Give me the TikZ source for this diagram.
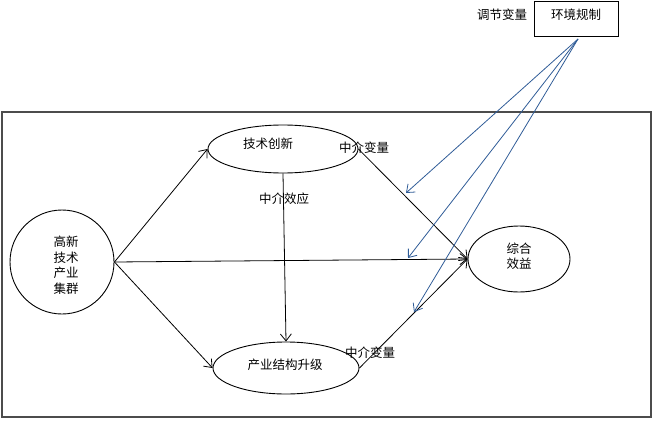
\documentclass[tikz,border=0pt]{standalone}
\usepackage{fontspec}
\newfontfamily\cjk{Noto Sans CJK SC}
\usetikzlibrary{shapes.geometric,arrows.meta}
\definecolor{myblue}{HTML}{2F5C97}
\begin{document}
\begin{tikzpicture}[x=1pt,y=-1pt,
  every node/.style={font=\cjk\fontsize{12.5}{15.5}\selectfont},
  ell/.style={draw, ellipse, inner sep=0pt, line width=0.9pt},
  txt/.style={inner sep=0pt, align=center},
  arr/.style={-{Straight Barb[length=7pt,width=11pt]}, line width=0.8pt},
  barr/.style={arr, draw=myblue}]
\useasboundingbox (0,0) rectangle (655,420);
\draw[line width=1.3pt, draw=black!70] (2,112) rectangle (651,417);
% environment box
\node[draw, line width=0.9pt, minimum width=84pt, minimum height=35pt, inner sep=0pt] (env) at (576,18.5) {};
\node[txt] (envt) at (576,15) {环境规制};
\node[txt] (tj) at (502,15) {调节变量};
% ellipses
\node[ell, minimum width=150pt, minimum height=48pt] (js) at (283,149) {};
\node[txt] (jst) at (268,144) {技术创新};
\node[ell, minimum width=146pt, minimum height=52pt] (cy) at (286,368) {};
\node[txt] (cyt) at (285,365) {产业结构升级};
\node[ell, minimum width=102pt, minimum height=66pt] (zh) at (519,259) {};
\node[txt] (zht) at (519,256) {综合\\效益};
\node[draw, circle, line width=0.9pt, minimum size=104pt, inner sep=0pt] (gx) at (62,262) {};
\node[txt] (gxt) at (66,265) {高新\\技术\\产业\\集群};
% labels
\node[txt] (l1) at (284,199) {中介效应};
\node[txt] (l2) at (364,148) {中介变量};
\node[txt] (l3) at (370,353) {中介变量};
% black arrows
\draw[arr] (gx.east) -- (js.west);
\draw[arr] (gx.east) -- (cy.west);
\draw[arr] (gx.east) -- (zh.west);
\draw[arr] (js.south) -- (cy.north);
\draw[arr] (js.east) -- (zh.west);
\draw[arr] (cy.east) -- (zh.west);
% blue arrows
\coordinate (src) at (578,39);
\coordinate (b1) at (406,193);
\coordinate (b2) at (408,258);
\coordinate (b3) at (414,312);
\draw[barr] (src) -- (b1);
\draw[barr] (src) -- (b2);
\draw[barr] (src) -- (b3);
\end{tikzpicture}
\end{document}
